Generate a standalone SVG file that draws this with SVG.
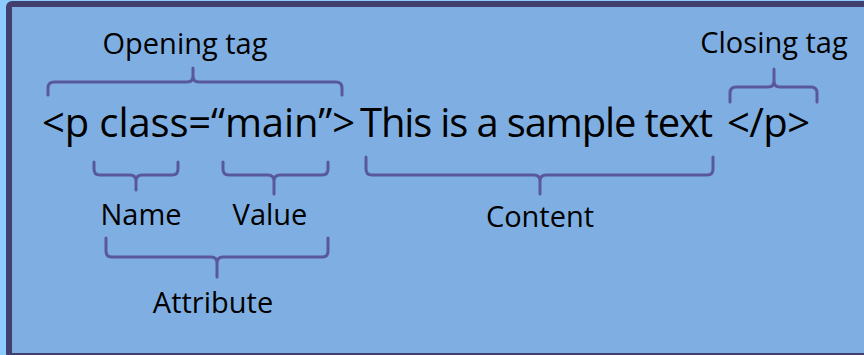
<svg xmlns="http://www.w3.org/2000/svg" width="864" height="355" viewBox="0 0 864 355">
<style>
.lbl{font-family:"Open Sans","Noto Sans",sans-serif;font-size:29px;fill:#000}
.main{font-family:"Open Sans","Noto Sans",sans-serif;font-size:40px;fill:#000}
.brace{fill:none;stroke:#58589A;stroke-width:3;stroke-linecap:round;stroke-linejoin:round}
</style>
<rect x="0" y="0" width="864" height="355" fill="#8DCBFF"/>
<rect x="9" y="4" width="900" height="352" rx="3" fill="#7FAFE2" stroke="#403F6E" stroke-width="6"/>
<g id="code">
<text class="main" y="137"><tspan x="42" textLength="313">&lt;p class=“main”&gt;</tspan><tspan x="360" textLength="353">This is a sample text</tspan><tspan x="727" textLength="83">&lt;/p&gt;</tspan></text>
</g>
<g id="connectors">
<path class="brace" d="M48 95 L48 88 Q48 82 54 82 L187 82 Q193 82 193 76 L193 68 M193 76 Q193 82 199 82 L336 82 Q342 82 342 88 L342 95"/>
<path class="brace" d="M730 102 L730 93 Q730 87 736 87 L768 87 Q774 87 774 81 L774 69 M774 81 Q774 87 780 87 L811 87 Q817 87 817 93 L817 102"/>
<path class="brace" d="M94 162 L94 169 Q94 175 100 175 L130 175 Q136 175 136 181 L136 190 M136 181 Q136 175 142 175 L172 175 Q178 175 178 169 L178 162"/>
<path class="brace" d="M223 162 L223 169 Q223 175 229 175 L268 175 Q274 175 274 181 L274 194 M274 181 Q274 175 280 175 L322 175 Q328 175 328 169 L328 162"/>
<path class="brace" d="M366 157 L366 169 Q366 175 372 175 L534 175 Q540 175 540 181 L540 194 M540 181 Q540 175 546 175 L707 175 Q713 175 713 169 L713 157"/>
<path class="brace" d="M106 238 L106 251 Q106 257 112 257 L211 257 Q217 257 217 263 L217 277 M217 263 Q217 257 223 257 L322 257 Q328 257 328 251 L328 238"/>
</g>
<g id="opening-tag"><text class="lbl" x="185" y="54" text-anchor="middle">Opening tag</text></g>
<g id="closing-tag"><text class="lbl" x="774" y="53" text-anchor="middle">Closing tag</text></g>
<g id="name"><text class="lbl" x="141" y="225" text-anchor="middle">Name</text></g>
<g id="value"><text class="lbl" x="270" y="225" text-anchor="middle">Value</text></g>
<g id="content"><text class="lbl" x="540" y="227" text-anchor="middle">Content</text></g>
<g id="attribute"><text class="lbl" x="213" y="313" text-anchor="middle">Attribute</text></g>
</svg>
